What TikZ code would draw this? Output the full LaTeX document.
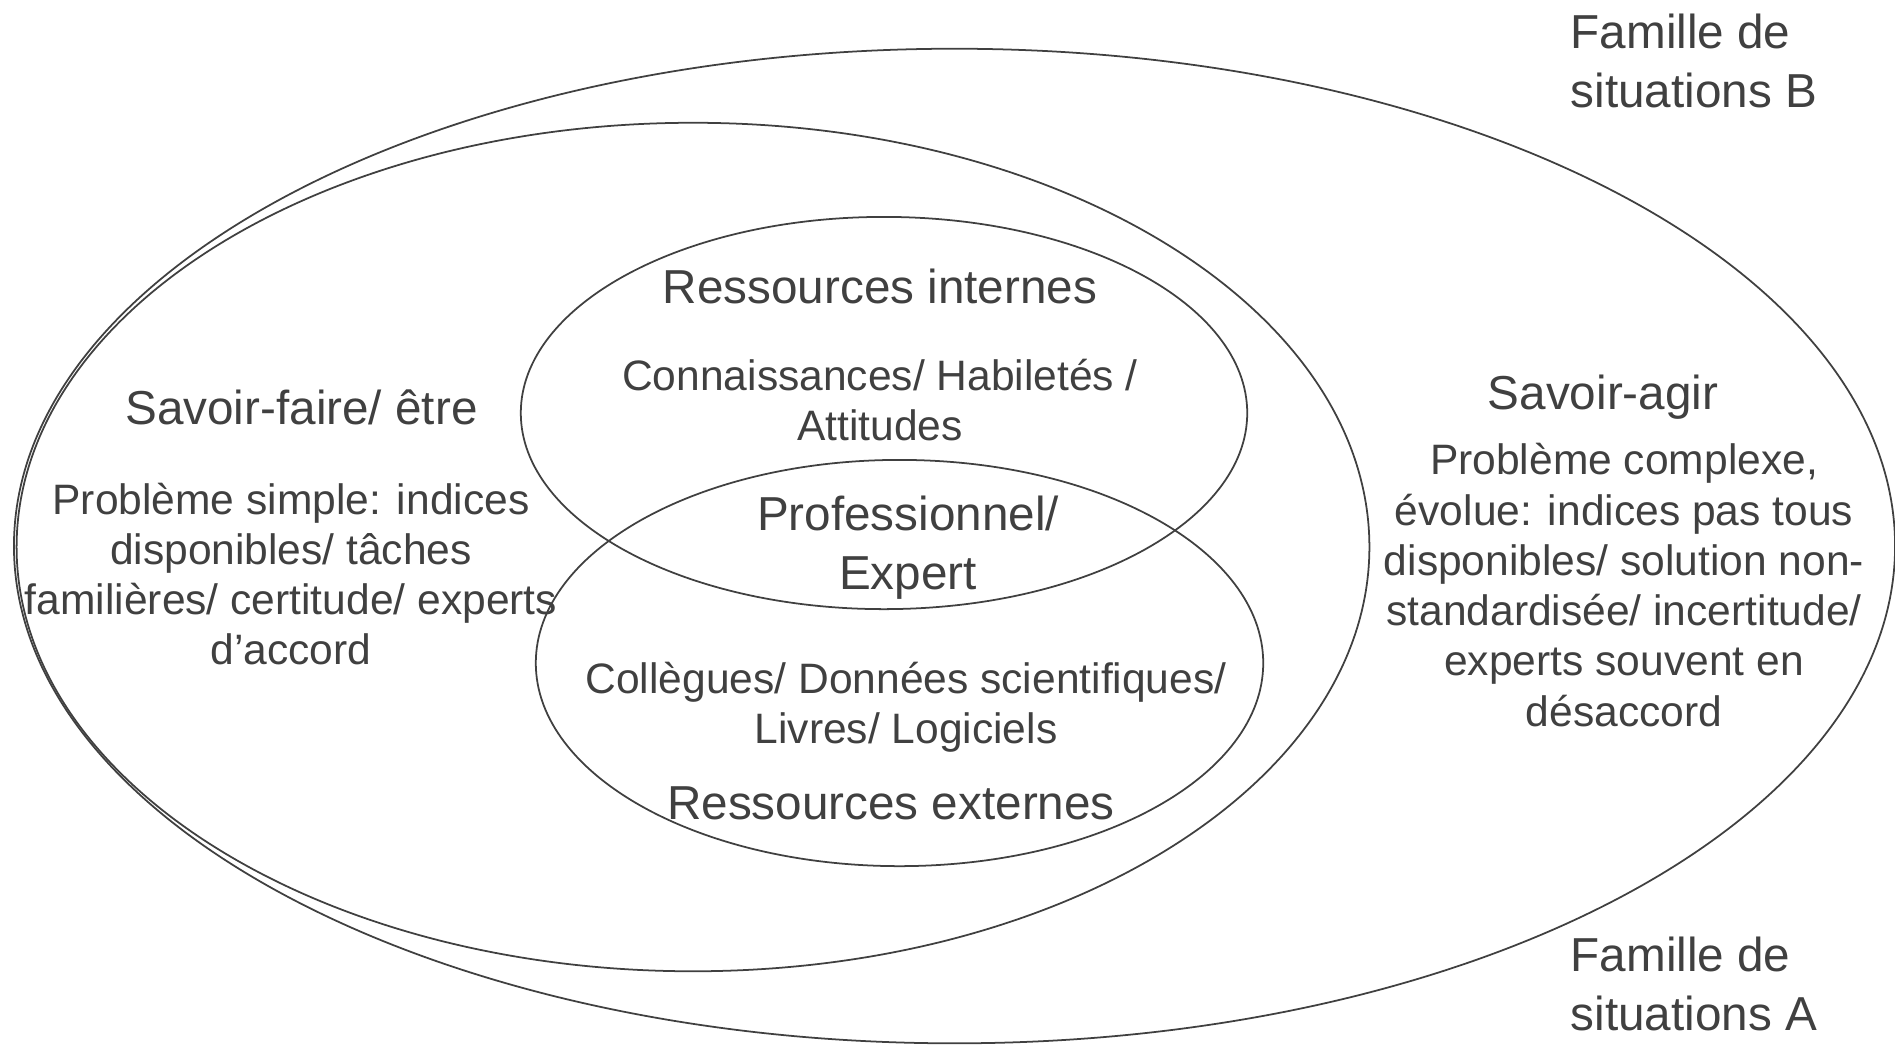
\documentclass[tikz,border=0pt]{standalone}
\usepackage{fontspec}
\setmainfont{Liberation Sans}
\usetikzlibrary{shapes.geometric}
\definecolor{ink}{HTML}{404040}
\begin{document}
\begin{tikzpicture}[x=0.01cm,y=-0.01cm,
  ring/.style={ellipse, draw=ink, line width=0.5pt, inner sep=0pt, outer sep=0pt},
  title/.style={text=ink, font=\fontsize{13.55}{16.7}\selectfont, inner sep=0pt, align=center},
  body/.style={text=ink, font=\fontsize{12.1}{14.3}\selectfont, inner sep=0pt, align=center}]
\useasboundingbox (0,0) rectangle (1895,1044);
% ellipses
\node[ring, minimum width=18.8cm, minimum height=9.94cm] (famB) at (954.5,546) {};
\node[ring, minimum width=13.52cm, minimum height=8.48cm] (famA) at (693,547) {};
\node[ring, minimum width=7.26cm, minimum height=3.92cm] (intern) at (884,413) {};
\node[ring, minimum width=7.27cm, minimum height=4.06cm] (extern) at (899.5,663) {};
% labels
\node[title, align=left, anchor=west] (labB) at (1570,61) {Famille de\\situations B};
\node[title, align=left, anchor=west] (labA) at (1570,984) {Famille de\\situations A};
\node[title] (ri) at (880,286) {Ressources internes};
\node[body] (cha) at (880,400) {Connaissances/ Habiletés /\\Attitudes};
\node[title] (pe) at (908,548) {Professionnel/\\Expert};
\node[body] (cdl) at (906,707) {Collègues/ Données scientifiques/\\Livres/ Logiciels};
\node[title] (re) at (891,803) {Ressources externes};
\node[title] (sf) at (301.5,407) {Savoir-faire/ être};
\node[body] (sfb) at (291,574) {Problème simple: indices\\disponibles/ tâches\\familières/ certitude/ experts\\d’accord};
\node[title] (sa) at (1603,397) {Savoir-agir};
\node[body] (sab) at (1624,585) {Problème complexe,\\évolue: indices pas tous\\disponibles/ solution non-\\standardisée/ incertitude/\\experts souvent en\\désaccord};
\end{tikzpicture}
\end{document}
